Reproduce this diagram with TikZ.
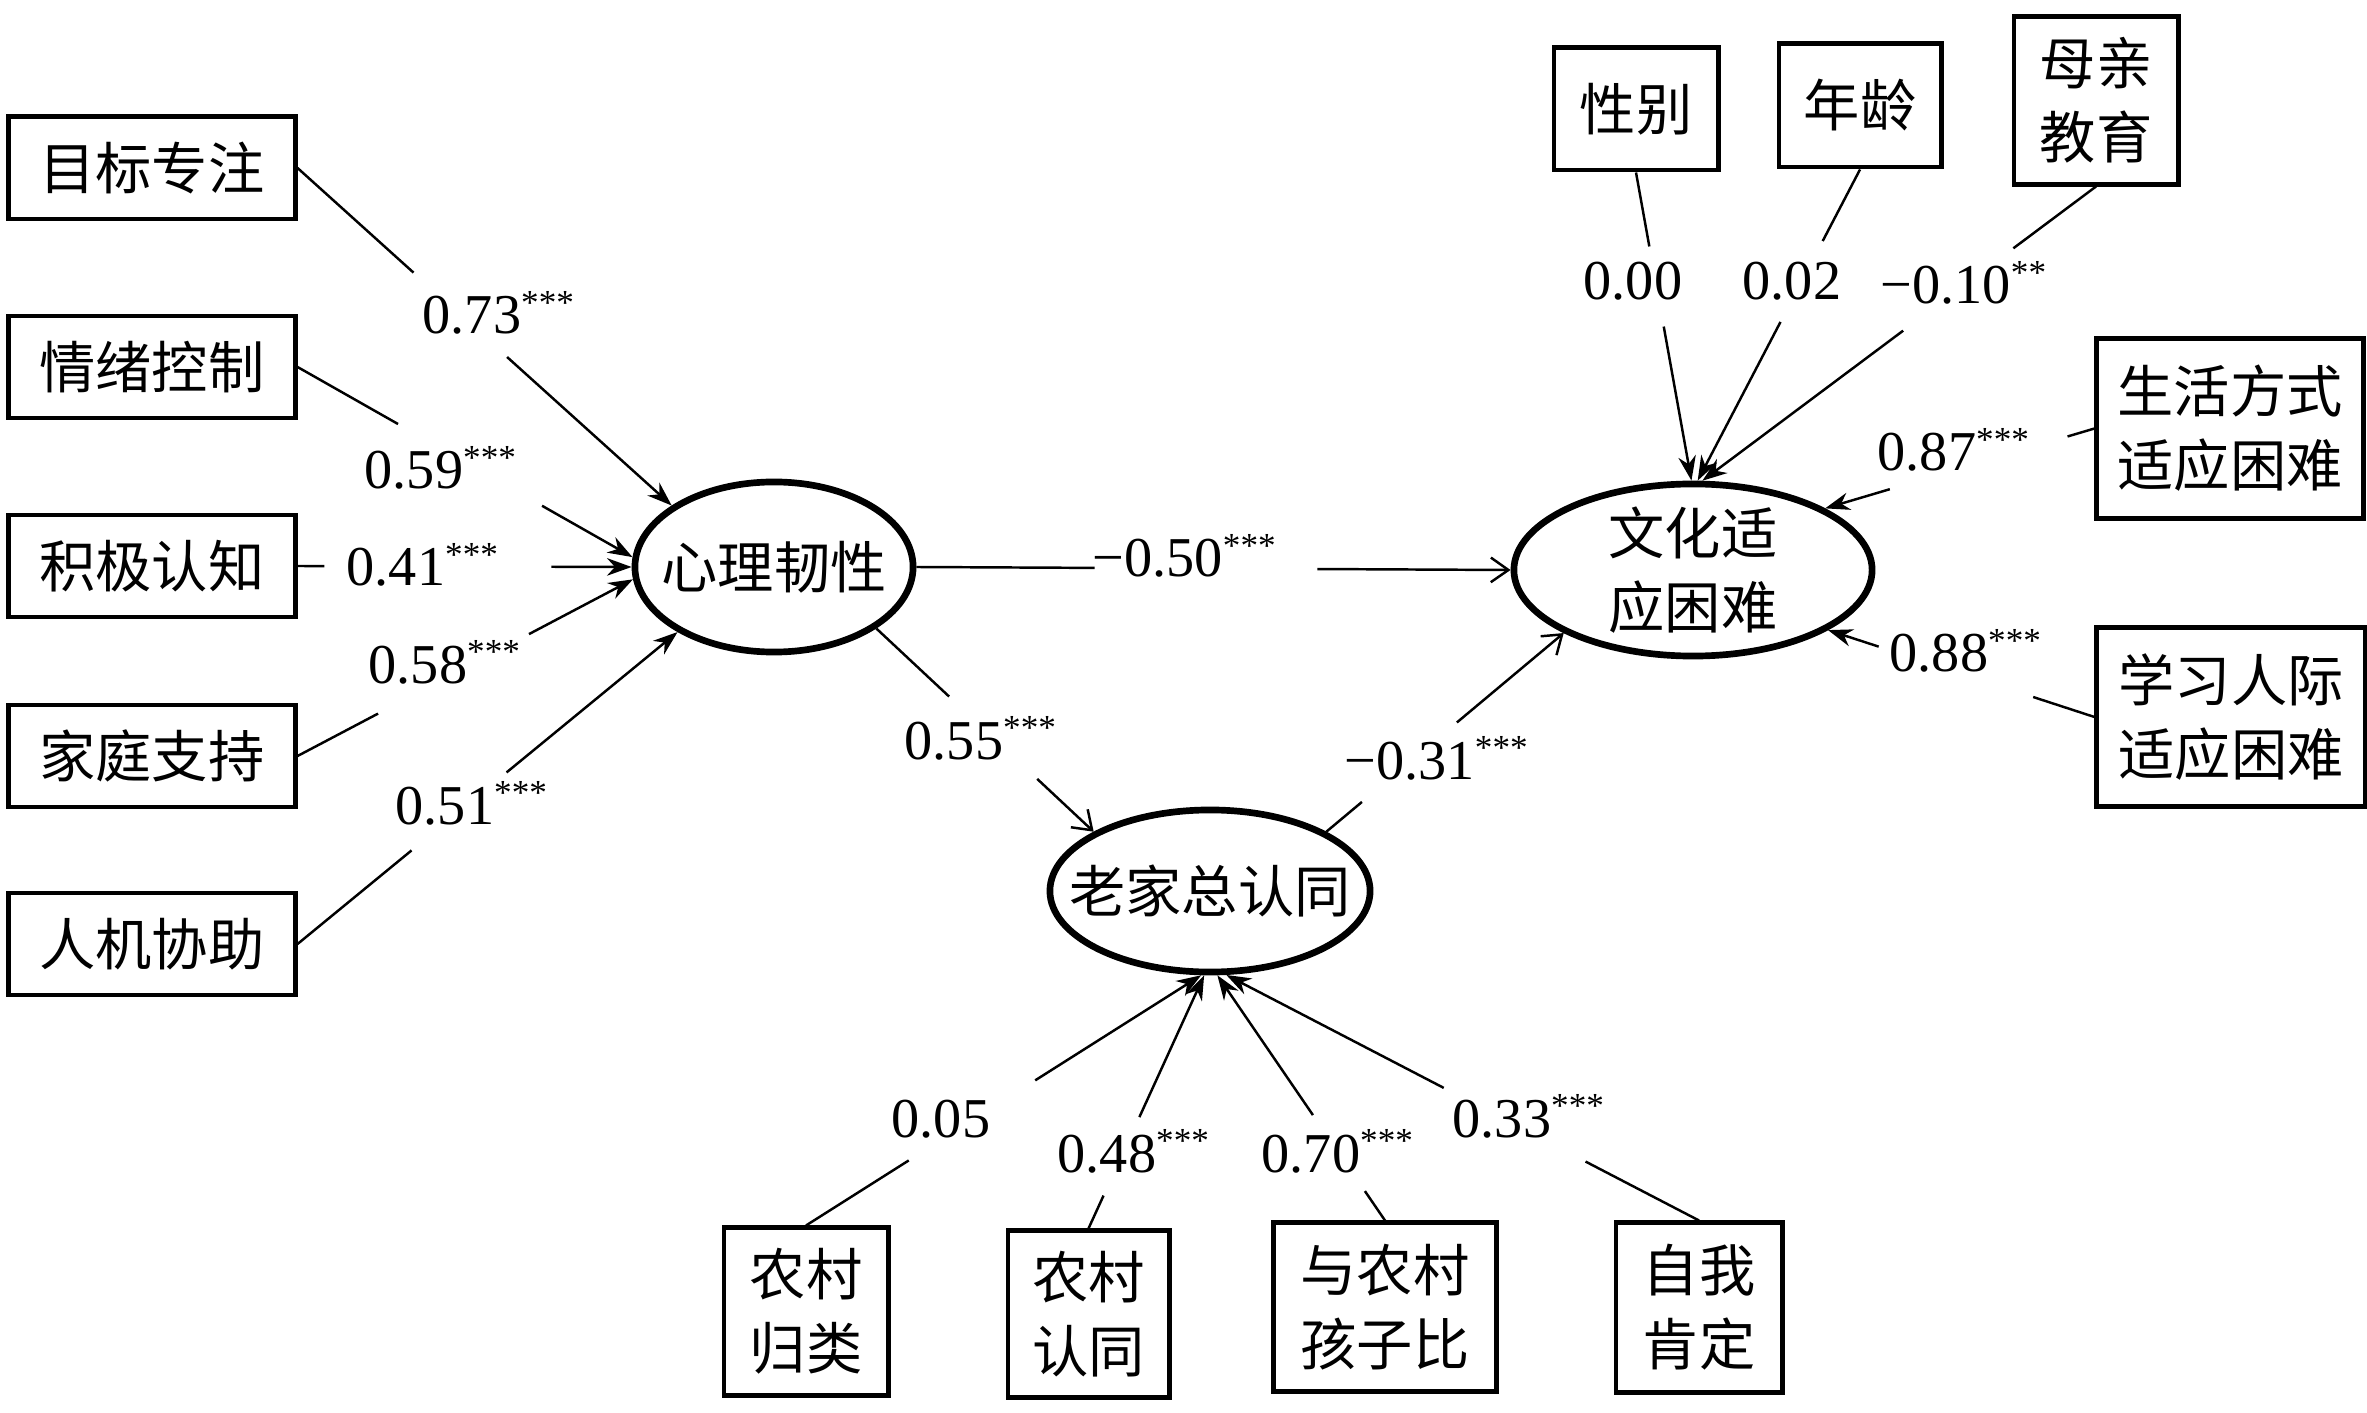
\documentclass[tikz,border=0pt]{standalone}
\usepackage{fontspec}
\setmainfont{Liberation Serif}
\newfontfamily\cjk{Noto Sans CJK SC}
\usetikzlibrary{shapes.geometric,arrows.meta,calc}
\newcommand{\sig}[1]{\raisebox{5.5pt}{\fontsize{10}{10}\selectfont #1}}
\newcommand{\gapline}[5]{%
  \draw[con] (#2) -- ($(#2)!#4!(#3)$);
  \draw[#1] ($(#2)!#5!(#3)$) -- (#3);}
\begin{document}
\begin{tikzpicture}[x=0.01cm,y=-0.01cm,
  box/.style={draw, line width=1.4pt, font=\cjk\fontsize{16}{21}\selectfont, align=center, inner sep=0pt},
  ell/.style={draw, ellipse, line width=1.9pt, inner sep=0pt},
  etxt/.style={font=\cjk\fontsize{16}{21}\selectfont, align=center, inner sep=0pt},
  lab/.style={font=\fontsize{16}{16}\selectfont, anchor=base west, inner sep=0pt},
  con/.style={line width=0.7pt},
  arrf/.style={con, -{Stealth[length=7pt,width=5pt]}},
  arro/.style={con, -{Straight Barb[length=5pt,width=7pt]}}]
\useasboundingbox (0,0) rectangle (2367,1413);

% left indicator boxes
\node[box, minimum width=2.86cm, minimum height=1.02cm] (l1) at (152,168) {目标专注};
\node[box, minimum width=2.86cm, minimum height=1.02cm] (l2) at (152,367) {情绪控制};
\node[box, minimum width=2.86cm, minimum height=1.02cm] (l3) at (152,566) {积极认知};
\node[box, minimum width=2.86cm, minimum height=1.02cm] (l4) at (152,756) {家庭支持};
\node[box, minimum width=2.86cm, minimum height=1.02cm] (l5) at (152,944) {人机协助};

% top covariates
\node[box, minimum width=1.64cm, minimum height=1.22cm] (sex) at (1636,109) {性别};
\node[box, minimum width=1.62cm, minimum height=1.23cm] (age) at (1860,105.5) {年龄};
\node[box, minimum width=1.64cm, minimum height=1.67cm] (mom) at (2096,100.5) {母亲\\教育};

% right indicators
\node[box, minimum width=2.66cm, minimum height=1.79cm] (life) at (2230,428.5) {生活方式\\适应困难};
\node[box, minimum width=2.68cm, minimum height=1.79cm] (study) at (2231,717) {学习人际\\适应困难};

% bottom indicators
\node[box, minimum width=1.64cm, minimum height=1.67cm] (b1) at (806,1311.5) {农村\\归类};
\node[box, minimum width=1.61cm, minimum height=1.66cm] (b2) at (1088.5,1314) {农村\\认同};
\node[box, minimum width=2.22cm, minimum height=1.68cm] (b3) at (1385,1307) {与农村\\孩子比};
\node[box, minimum width=1.66cm, minimum height=1.69cm] (b4) at (1699,1307.5) {自我\\肯定};

% latent variables
\node[ell, minimum width=2.78cm, minimum height=1.70cm] (psy) at (774,567) {};
\node[etxt] (psyt) at (psy.center) {心理韧性};
\node[ell, minimum width=3.58cm, minimum height=1.72cm] (cul) at (1693,570) {};
\node[etxt] (cult) at (cul.center) {文化适\\应困难};
\node[ell, minimum width=3.20cm, minimum height=1.62cm] (lj) at (1210,891) {};
\node[etxt] (ljt) at (lj.center) {老家总认同};

% connectors
\gapline{arrf}{l1.east}{psy.149}{0.31}{0.56}
\gapline{arrf}{l2.east}{psy.176}{0.30}{0.73}
\gapline{arrf}{l3.east}{psy.180}{0.08}{0.76}
\gapline{arrf}{l4.east}{psy.185}{0.24}{0.69}
\gapline{arrf}{l5.east}{psy.214}{0.30}{0.55}

\gapline{arro}{psy.east}{cul.west}{0.30}{0.675}
\gapline{arro}{psy.329}{lj.153}{0.335}{0.74}
\gapline{arro}{lj.27}{cul.206}{0.15}{0.55}

\gapline{arrf}{sex.south}{cul.91}{0.24}{0.50}
\gapline{arrf}{age.south}{cul.87}{0.23}{0.49}
\gapline{arrf}{mom.south}{cul.84}{0.21}{0.49}
\gapline{arrf}{life.west}{cul.25}{0.10}{0.76}
\gapline{arrf}{study.west}{cul.336}{0.23}{0.81}

\gapline{arrf}{b1.north}{lj.264}{0.26}{0.58}
\gapline{arrf}{b2.north}{lj.266}{0.13}{0.44}
\gapline{arrf}{b3.north}{lj.275}{0.12}{0.43}
\gapline{arrf}{b4.north}{lj.281}{0.24}{0.54}

% coefficients
\node[lab] (c1) at (422,334) {0.73\sig{***}};
\node[lab] (c2) at (364,489) {0.59\sig{***}};
\node[lab] (c3) at (346,586) {0.41\sig{***}};
\node[lab] (c4) at (368,683) {0.58\sig{***}};
\node[lab] (c5) at (395,824) {0.51\sig{***}};
\node[lab] (c6) at (1092,577) {−0.50\sig{***}};
\node[lab] (c7) at (904,759) {0.55\sig{***}};
\node[lab] (c8) at (1344,779) {−0.31\sig{***}};
\node[lab] (c9) at (1583,300) {0.00};
\node[lab] (c10) at (1742,300) {0.02};
\node[lab] (c11) at (1880,304) {−0.10\sig{**}};
\node[lab] (c12) at (1877,471) {0.87\sig{***}};
\node[lab] (c13) at (1889,672) {0.88\sig{***}};
\node[lab] (c14) at (891,1137) {0.05};
\node[lab] (c15) at (1057,1172) {0.48\sig{***}};
\node[lab] (c16) at (1261,1172) {0.70\sig{***}};
\node[lab] (c17) at (1452,1137) {0.33\sig{***}};
\end{tikzpicture}
\end{document}
